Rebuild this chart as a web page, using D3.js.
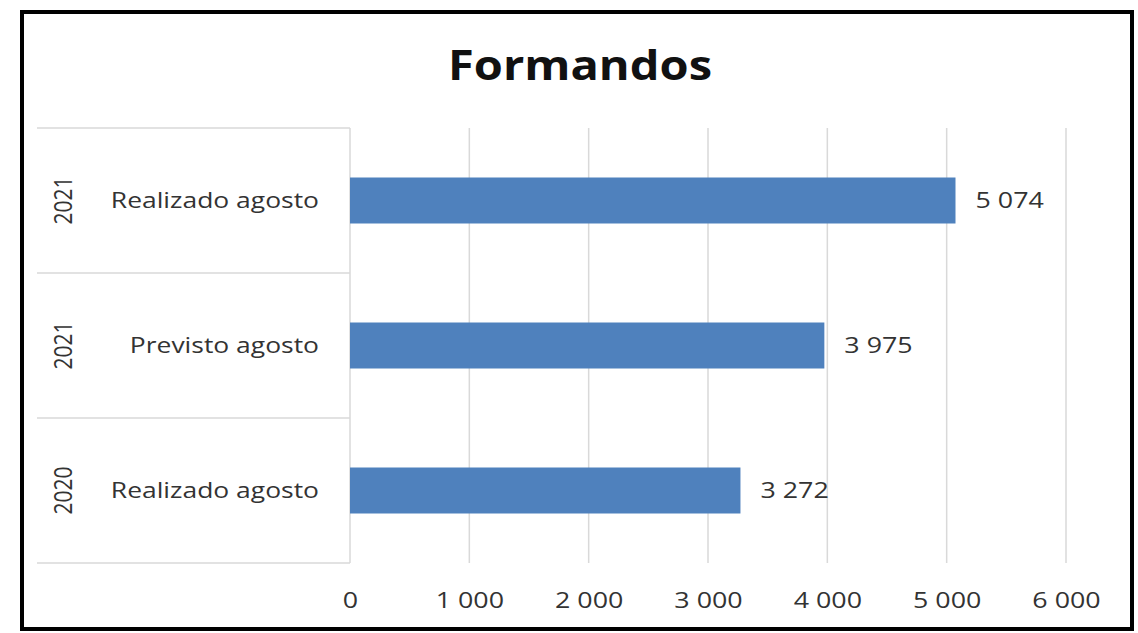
<!DOCTYPE html>
<html><head><meta charset="utf-8">
<script src="https://cdn.jsdelivr.net/npm/d3@7"></script>
<style>body{margin:0;background:#fff}svg{display:block}</style>
</head><body>
<svg id="c" width="1138" height="633"></svg>
<script>
const categories = ["Realizado agosto", "Previsto agosto", "Realizado agosto"];
const years = ["2021", "2021", "2020"];
const values = [5074, 3975, 3272];
const tickValues = [0, 1000, 2000, 3000, 4000, 5000, 6000];
const title = "Formandos";

(function () {
const svg = d3.select("#c");
const font = "'Open Sans', sans-serif";
const fmt = v => d3.format(",")(v).replace(/,/g, " ");
const SX = 1.22; // horizontal stretch of the original picture
const txtCol = "#333";

// outer frame
svg.append("rect").attr("x", 22).attr("y", 12).attr("width", 1110).attr("height", 617)
  .attr("fill", "#fff").attr("stroke", "#000").attr("stroke-width", 4);

const x = d3.scaleLinear().domain([0, 6000]).range([350, 1066]);
const ids = d3.range(categories.length);
const plotTop = 128, plotBottom = 563;
const y = d3.scaleBand().domain(ids).range([plotTop, plotBottom]).paddingInner(0).paddingOuter(0);

// gridlines
svg.append("g").selectAll("line").data(tickValues).join("line")
  .attr("x1", d => x(d)).attr("x2", d => x(d)).attr("y1", plotTop).attr("y2", plotBottom)
  .attr("stroke", "#d9d9d9").attr("stroke-width", 1.5);

// category separators
const seps = d3.range(categories.length + 1).map(i => plotTop + i * y.bandwidth());
svg.append("g").selectAll("line").data(seps).join("line")
  .attr("x1", 37).attr("x2", 350).attr("y1", d => d).attr("y2", d => d)
  .attr("stroke", "#d9d9d9").attr("stroke-width", 1.5);

// bars
const barH = 46;
svg.append("g").selectAll("rect").data(values).join("rect")
  .attr("x", x(0)).attr("y", (d, i) => y(i) + y.bandwidth() / 2 - barH / 2)
  .attr("width", d => x(d) - x(0)).attr("height", barH).attr("fill", "#4f81bd");

// value labels
svg.append("g").selectAll("text").data(values).join("text")
  .attr("transform", (d, i) => `translate(${x(d) + 20},${y(i) + y.bandwidth() / 2}) scale(${SX},1)`)
  .attr("dy", "0.36em").attr("font-family", font).attr("font-size", 22)
  .attr("fill", txtCol).text(d => fmt(d));

// category labels
svg.append("g").selectAll("text").data(categories).join("text")
  .attr("transform", (d, i) => `translate(319,${y(i) + y.bandwidth() / 2}) scale(1.26,1)`)
  .attr("dy", "0.36em").attr("text-anchor", "end").attr("font-family", font)
  .attr("font-size", 21).attr("fill", txtCol).text(d => d);

// year labels
svg.append("g").selectAll("text").data(years).join("text")
  .attr("transform", (d, i) => `translate(63,${y(i) + y.bandwidth() / 2}) scale(${SX},1) rotate(-90)`)
  .attr("dy", "0.36em").attr("text-anchor", "middle").attr("font-family", font)
  .attr("font-size", 21).attr("fill", txtCol).text(d => d);

// x axis tick labels
const axis = d3.axisBottom(x).tickValues(tickValues).tickFormat(fmt).tickSize(0).tickPadding(0);
const ag = svg.append("g").attr("transform", `translate(0,600)`).call(axis);
ag.select(".domain").remove();
ag.selectAll(".tick text").attr("font-family", font).attr("font-size", 22).attr("fill", txtCol)
  .attr("y", 0).attr("dy", "0.36em").attr("transform", `scale(${SX},1)`);

// title
svg.append("text").attr("transform", `translate(580,65) scale(1.12,1)`).attr("dy", "0.36em").attr("text-anchor", "middle")
  .attr("font-family", font).attr("font-weight", "bold").attr("font-size", 42).attr("fill", "#111").text(title);
})();
</script>
</body></html>
